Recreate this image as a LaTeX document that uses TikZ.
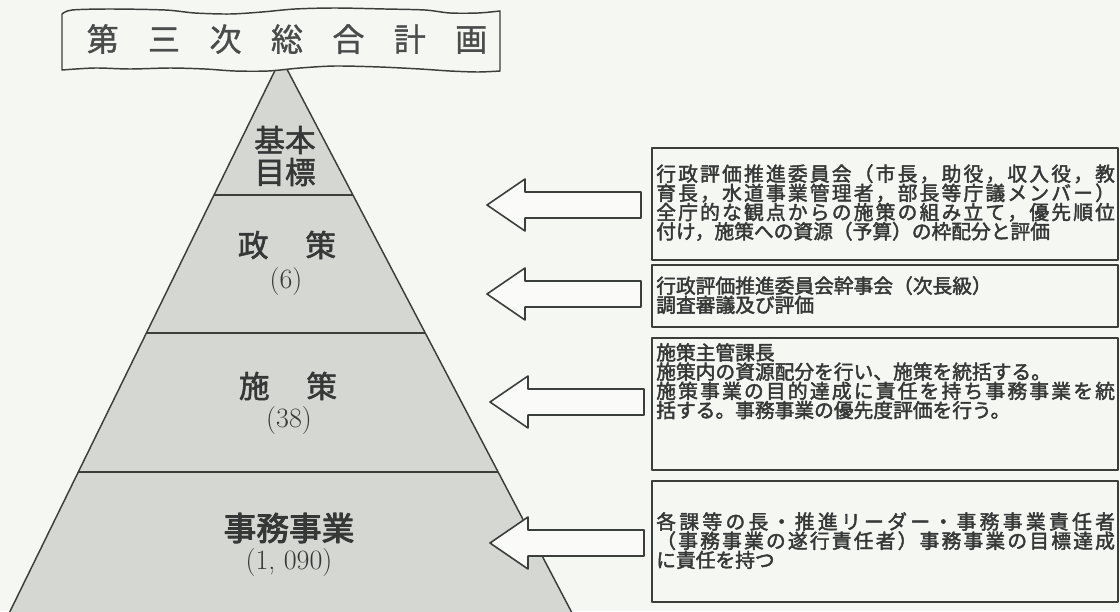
\documentclass[tikz,border=0pt]{standalone}
\usepackage{fontspec}
\newfontfamily\jp{Noto Sans CJK JP}[FakeBold=1.2]
\newfontfamily\jpm{Noto Sans CJK JP}[FakeBold=1.8]
\newfontfamily\jpb{Noto Sans CJK JP}[FakeBold=2.2]
\newfontfamily\jpbb{Noto Sans CJK JP}[FakeBold=3]
\usetikzlibrary{calc,fit}
\definecolor{paper}{HTML}{F5F7F3}
\definecolor{ink}{HTML}{3A3F3C}
\definecolor{pyrfill}{HTML}{D5D7D3}
\definecolor{txt}{HTML}{353836}
\definecolor{arrowfill}{HTML}{FAFBF9}
\ExplSyntaxOn
\NewDocumentCommand\spreadline{m m}{\leavevmode\hbox_to_wd:nn{#1}{\tl_map_inline:nn{#2}{##1\hfil}\unskip}}
\ExplSyntaxOff
\tikzset{
  outline/.style={draw=ink, line width=1.1pt},
  pyr/.style={outline, fill=pyrfill},
  layerline/.style={draw=ink, line width=1.2pt},
  bannerbox/.style={outline, fill=paper},
  bannertext/.style={font={\jp\fontsize{24pt}{24pt}\selectfont}, text=txt!90, inner sep=0},
  pyrlabel/.style={font={\jpm\fontsize{23pt}{24pt}\selectfont}, text=txt, inner sep=0, align=center},
  pyrbold/.style={font={\jpbb\fontsize{24.5pt}{25pt}\selectfont}, text=txt, inner sep=0},
  pyrnum/.style={font={\rmfamily\fontsize{21pt}{22pt}\selectfont}, text=txt, inner sep=0},
  infobox/.style={outline, line width=1.3pt, inner sep=0},
  boxtext/.style={font={\jpb\fontsize{14.8pt}{14.4pt}\selectfont\lineskiplimit=-20pt}, text=txt, inner sep=0, align=left, text width=346pt, anchor=north west},
  blockarrow/.style={outline, fill=arrowfill, line width=1.2pt},
}
\begin{document}
\begin{tikzpicture}[x=0.75pt, y=-0.75pt, line join=round]
\useasboundingbox (0,0) rectangle (1120,611);
\fill[paper] (0,0) rectangle (1120,611);
\clip (0,0) rectangle (1120,611);

% pyramid
\coordinate (apex) at (281.1,58);
\coordinate (bl) at (-4,640);
\coordinate (br) at (586.2,640);
\path[pyr] (apex) -- (bl) -- (br) -- cycle;
\foreach \t in {0.2354,0.4725,0.7113}
  \draw[layerline] ($(apex)!\t!(bl)$) -- ($(apex)!\t!(br)$);

% banner
\draw[bannerbox] plot[smooth, tension=0.5] coordinates {(62,14) (72,10) (110,9) (165,10) (195,13) (230,14) (262,12) (295,9) (335,8) (385,9) (425,10) (450,13) (478,13) (500,11)}
  -- plot[smooth, tension=0.5] coordinates {(500,71) (478,72) (450,71) (420,69) (380,67) (335,66) (300,68) (268,71) (235,71) (205,69) (170,68) (130,69) (95,68) (62,70)} -- cycle;
\node[bannertext] (title) at (287,39) {第\hspace{0.92em}三\hspace{0.92em}次\hspace{0.92em}総\hspace{0.92em}合\hspace{0.92em}計\hspace{0.92em}画};

% pyramid labels
\node[pyrlabel] (kihon) at (285,156) {基本\\目標};
\node[pyrlabel] (seisaku) at (287,245) {政\hspace{1.2em}策};
\node[pyrnum] (n6) at (286,282) {(6)};
\node[pyrlabel] (shisaku) at (288,386) {施\hspace{1.2em}策};
\node[pyrnum] (n38) at (289,421) {(38)};
\node[pyrbold] (jimu) at (289,528) {事務事業};
\node[pyrnum] (n1090) at (289,563) {(1, 090)};

% boxes
\node[infobox, fit={(652,148) (1118,260)}] (b1) {};
\node[infobox, fit={(652,265) (1118,327)}] (b2) {};
\node[infobox, fit={(652,338) (1118,470)}] (b3) {};
\node[infobox, fit={(652,481) (1118,602)}] (b4) {};

\node[boxtext] (t1) at (656,164) {\spreadline{344pt}{行政評価推進委員会（市長，助役，収入役，教}\\
\spreadline{344pt}{育長，水道事業管理者，部長等庁議メンバー）}\\
\spreadline{344pt}{全庁的な観点からの施策の組み立て，優先順位}\\
付け，施策への資源（予算）の枠配分と評価};
\node[boxtext] (t2) at (656,276) {行政評価推進委員会幹事会（次長級）\\調査審議及び評価};
\node[boxtext] (t3) at (656,343) {施策主管課長\\
施策内の資源配分を行い、施策を統括する。\\
\spreadline{344pt}{施策事業の目的達成に責任を持ち事務事業を統}\\
括する。事務事業の優先度評価を行う。};
\node[boxtext] (t4) at (656,512) {\spreadline{344pt}{各課等の長・推進リーダー・事務事業責任者}\\
\spreadline{344pt}{（事務事業の遂行責任者）事務事業の目標達成}\\
に責任を持つ};

% block arrows
\foreach \n/\tx/\ty in {1/487/205, 2/487/294, 3/490/402, 4/490/543} {
  \coordinate (tip\n) at (\tx,\ty);
  \draw[blockarrow] (tip\n) -- ++(38,-26) -- ++(0,13) -- ++(116,0) -- ++(0,26) -- ++(-116,0) -- ++(0,13) -- cycle;
}
\end{tikzpicture}
\end{document}
